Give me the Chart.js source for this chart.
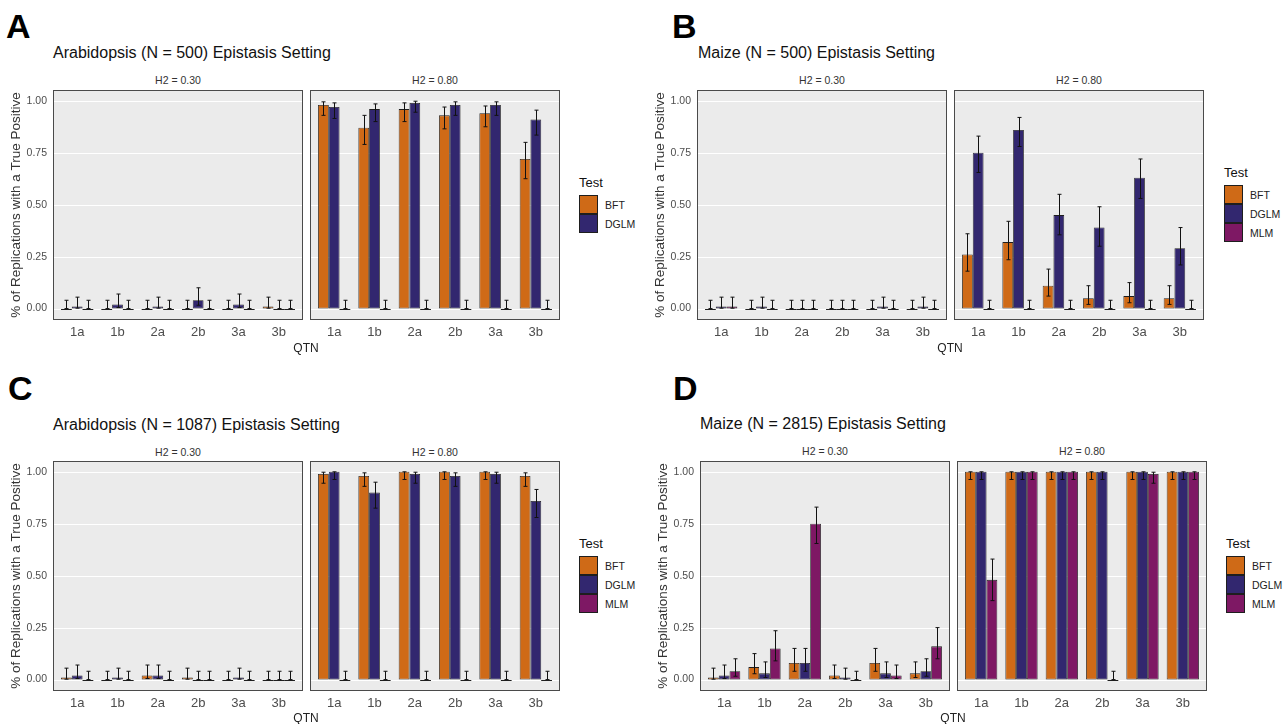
<!DOCTYPE html>
<html>
<head>
<meta charset="utf-8">
<script src="https://cdn.jsdelivr.net/npm/chart.js"></script>
<style>
  body { margin: 0; width: 1286px; height: 724px; background: #fff; position: relative; overflow: hidden;
         font-family: "Liberation Sans", Arial, sans-serif; }
  .txt { position: absolute; white-space: nowrap; line-height: 1; }
  canvas { position: absolute; }
</style>
</head>
<body>
<script>
// ---- data ----
const qtnLabels = ['1a', '1b', '2a', '2b', '3a', '3b'];
const testNames = ['BFT', 'DGLM', 'MLM'];
const testColors = ['#cf6a17', '#32276f', '#7e1864'];
const h2Labels = ['H2 = 0.30', 'H2 = 0.80'];
const yTickValues = [0, 0.25, 0.5, 0.75, 1];

// rows: BFT, DGLM, MLM
// A: Arabidopsis N = 500
const a30Rate = [[0, 0, 0, 0, 0, 0.01], [0.01, 0.02, 0.01, 0.04, 0.02, 0], [0, 0, 0, 0, 0, 0]];
const a30Low  = [[0, 0, 0, 0, 0, 0.002], [0.002, 0.005, 0.002, 0.016, 0.005, 0], [0, 0, 0, 0, 0, 0]];
const a30High = [[0.04, 0.04, 0.04, 0.04, 0.04, 0.055], [0.055, 0.07, 0.055, 0.1, 0.07, 0.04], [0.04, 0.04, 0.04, 0.04, 0.04, 0.04]];
const a80Rate = [[0.98, 0.87, 0.96, 0.93, 0.94, 0.72], [0.97, 0.96, 0.99, 0.98, 0.98, 0.91], [0, 0, 0, 0, 0, 0]];
const a80Low  = [[0.93, 0.79, 0.9, 0.865, 0.875, 0.625], [0.915, 0.9, 0.945, 0.93, 0.93, 0.835], [0, 0, 0, 0, 0, 0]];
const a80High = [[0.995, 0.93, 0.99, 0.97, 0.975, 0.8], [0.99, 0.985, 0.998, 0.995, 0.995, 0.955], [0.04, 0.04, 0.04, 0.04, 0.04, 0.04]];

// B: Maize N = 500
const b30Rate = [[0, 0, 0, 0, 0, 0], [0.01, 0.01, 0, 0, 0.01, 0.01], [0.01, 0, 0, 0, 0, 0]];
const b30Low  = [[0, 0, 0, 0, 0, 0], [0.002, 0.002, 0, 0, 0.002, 0.002], [0.002, 0, 0, 0, 0, 0]];
const b30High = [[0.04, 0.04, 0.04, 0.04, 0.04, 0.04], [0.055, 0.055, 0.04, 0.04, 0.055, 0.055], [0.055, 0.04, 0.04, 0.04, 0.04, 0.04]];
const b80Rate = [[0.26, 0.32, 0.11, 0.05, 0.06, 0.05], [0.75, 0.86, 0.45, 0.39, 0.63, 0.29], [0, 0, 0, 0, 0, 0]];
const b80Low  = [[0.18, 0.235, 0.06, 0.02, 0.028, 0.02], [0.655, 0.78, 0.355, 0.3, 0.53, 0.21], [0, 0, 0, 0, 0, 0]];
const b80High = [[0.36, 0.42, 0.19, 0.11, 0.125, 0.11], [0.83, 0.92, 0.55, 0.49, 0.72, 0.39], [0.04, 0.04, 0.04, 0.04, 0.04, 0.04]];

// C: Arabidopsis N = 1087
const c30Rate = [[0.01, 0, 0.02, 0.01, 0, 0], [0.02, 0.01, 0.02, 0, 0.01, 0], [0, 0, 0, 0, 0, 0]];
const c30Low  = [[0.002, 0, 0.005, 0.002, 0, 0], [0.005, 0.002, 0.005, 0, 0.002, 0], [0, 0, 0, 0, 0, 0]];
const c30High = [[0.055, 0.04, 0.07, 0.055, 0.04, 0.04], [0.07, 0.055, 0.07, 0.04, 0.055, 0.04], [0.04, 0.04, 0.04, 0.04, 0.04, 0.04]];
const c80Rate = [[0.99, 0.98, 1, 1, 1, 0.98], [1, 0.9, 0.99, 0.98, 0.99, 0.86], [0, 0, 0, 0, 0, 0]];
const c80Low  = [[0.945, 0.93, 0.963, 0.963, 0.963, 0.93], [0.963, 0.825, 0.945, 0.93, 0.945, 0.78], [0, 0, 0, 0, 0, 0]];
const c80High = [[0.998, 0.995, 1, 1, 1, 0.995], [1, 0.95, 0.998, 0.995, 0.998, 0.915], [0.04, 0.04, 0.04, 0.04, 0.04, 0.04]];

// D: Maize N = 2815
const d30Rate = [[0.01, 0.06, 0.08, 0.02, 0.08, 0.03], [0.02, 0.03, 0.08, 0.01, 0.03, 0.04], [0.04, 0.15, 0.75, 0, 0.02, 0.16]];
const d30Low  = [[0.002, 0.028, 0.04, 0.005, 0.04, 0.01], [0.005, 0.01, 0.04, 0.002, 0.01, 0.016], [0.016, 0.09, 0.655, 0, 0.005, 0.1]];
const d30High = [[0.055, 0.125, 0.15, 0.07, 0.15, 0.085], [0.07, 0.085, 0.15, 0.055, 0.085, 0.1], [0.1, 0.235, 0.83, 0.04, 0.07, 0.25]];
const d80Rate = [[1, 1, 1, 1, 1, 1], [1, 1, 1, 1, 1, 1], [0.48, 1, 1, 0, 0.99, 1]];
const d80Low  = [[0.963, 0.963, 0.963, 0.963, 0.963, 0.963], [0.963, 0.963, 0.963, 0.963, 0.963, 0.963], [0.38, 0.963, 0.963, 0, 0.945, 0.963]];
const d80High = [[1, 1, 1, 1, 1, 1], [1, 1, 1, 1, 1, 1], [0.58, 1, 1, 0.04, 0.998, 1]];

// ---- layout ----
const panels = [
  { letter: 'A', title: 'Arabidopsis (N = 500) Epistasis Setting', x1: 53, x2: 310, top: 90,
    letterX: 6, letterY: 9, titleX: 53, titleY: 53, stripY: 80, qtnX: 306, qtnY: 348,
    legX: 579, legTitleY: 183, legKeyY: 195, nTests: 2,
    facets: [[a30Rate, a30Low, a30High], [a80Rate, a80Low, a80High]] },
  { letter: 'B', title: 'Maize (N = 500) Epistasis Setting', x1: 697, x2: 954, top: 90,
    letterX: 672, letterY: 9, titleX: 698, titleY: 53, stripY: 80, qtnX: 950, qtnY: 348,
    legX: 1224, legTitleY: 173, legKeyY: 185, nTests: 3,
    facets: [[b30Rate, b30Low, b30High], [b80Rate, b80Low, b80High]] },
  { letter: 'C', title: 'Arabidopsis (N = 1087) Epistasis Setting', x1: 53, x2: 310, top: 461,
    letterX: 8, letterY: 371, titleX: 53, titleY: 425, stripY: 452, qtnX: 306, qtnY: 718,
    legX: 579, legTitleY: 544, legKeyY: 556, nTests: 3,
    facets: [[c30Rate, c30Low, c30High], [c80Rate, c80Low, c80High]] },
  { letter: 'D', title: 'Maize (N = 2815) Epistasis Setting', x1: 700, x2: 957, top: 461,
    letterX: 673, letterY: 371, titleX: 700, titleY: 424, stripY: 451, qtnX: 953, qtnY: 718,
    legX: 1226, legTitleY: 544, legKeyY: 556, nTests: 3,
    facets: [[d30Rate, d30Low, d30High], [d80Rate, d80Low, d80High]] }
];
const PANEL_W = 250, PANEL_H = 230, INSET = 4, Y_AXIS_W = 57, X_AXIS_H = 26;

Chart.defaults.font.family = '"Liberation Sans", Arial, sans-serif';

function addText(txt, x, y, css) {
  const d = document.createElement('div');
  d.className = 'txt';
  d.textContent = txt;
  d.style.cssText = 'left:' + x + 'px;top:' + y + 'px;' + css;
  document.body.appendChild(d);
  return d;
}

// grey ggplot panel, white grid, zero-height bars, error bars, border
const ggPanel = {
  id: 'ggPanel',
  beforeDatasetsDraw(chart) {
    const { ctx, chartArea: a, scales: { y } } = chart;
    const left = a.left - INSET, right = a.right + INSET;
    ctx.save();
    ctx.fillStyle = '#ebebeb';
    ctx.fillRect(left, a.top, right - left, a.bottom - a.top);
    ctx.strokeStyle = '#ffffff';
    ctx.lineWidth = 1.2;
    yTickValues.forEach(v => {
      const py = Math.round(y.getPixelForValue(v)) + 0.5;
      ctx.beginPath(); ctx.moveTo(left, py); ctx.lineTo(right, py); ctx.stroke();
    });
    ctx.restore();
  },
  afterDatasetsDraw(chart) {
    const { ctx, chartArea: a, scales: { y } } = chart;
    const y0 = Math.round(y.getPixelForValue(0)) + 0.5;
    ctx.save();
    chart.data.datasets.forEach((ds, i) => {
      chart.getDatasetMeta(i).data.forEach((bar, j) => {
        if (ds.data[j] === 0) {
          ctx.strokeStyle = '#1e1e1e';
          ctx.lineWidth = 1;
          ctx.beginPath(); ctx.moveTo(bar.x - bar.width / 2, y0); ctx.lineTo(bar.x + bar.width / 2, y0); ctx.stroke();
        }
        const px = Math.round(bar.x) + 0.5;
        const yl = y.getPixelForValue(ds.errLow[j]);
        const yh = y.getPixelForValue(ds.errHigh[j]);
        ctx.strokeStyle = '#111';
        ctx.lineWidth = 1;
        ctx.beginPath();
        ctx.moveTo(px, yl); ctx.lineTo(px, yh);
        ctx.moveTo(px - 2, yh); ctx.lineTo(px + 2, yh);
        ctx.moveTo(px - 2, yl); ctx.lineTo(px + 2, yl);
        ctx.stroke();
      });
    });
    ctx.strokeStyle = '#4a4a4a';
    ctx.lineWidth = 1;
    ctx.strokeRect(a.left - INSET + 0.5, a.top + 0.5, a.right - a.left + 2 * INSET - 1, a.bottom - a.top - 1);
    ctx.restore();
  }
};

function facetChart(panelLeft, panelTop, withAxis, rate, low, high) {
  const cv = document.createElement('canvas');
  const extra = withAxis ? Y_AXIS_W - INSET : 0;
  cv.width = PANEL_W + extra;
  cv.height = 2 + PANEL_H + X_AXIS_H;
  cv.style.left = (panelLeft - extra) + 'px';
  cv.style.top = (panelTop - 2) + 'px';
  document.body.appendChild(cv);

  new Chart(cv, {
    type: 'bar',
    data: {
      labels: qtnLabels,
      datasets: testNames.map((name, k) => ({
        label: name,
        data: rate[k],
        errLow: low[k],
        errHigh: high[k],
        backgroundColor: testColors[k],
        borderColor: '#1e1e1e',
        borderWidth: 0.8,
        borderSkipped: false,
        categoryPercentage: 0.8,
        barPercentage: 1
      }))
    },
    options: {
      responsive: false,
      animation: false,
      devicePixelRatio: 1,
      layout: { padding: { left: withAxis ? 0 : INSET, right: INSET, top: 2, bottom: 0 } },
      plugins: { legend: { display: false }, tooltip: { enabled: false } },
      scales: {
        x: {
          grid: { display: false, drawTicks: false },
          border: { display: false },
          ticks: { font: { size: 13 }, color: '#4d4d4d', padding: 5 },
          afterFit: s => { s.height = X_AXIS_H; s.paddingLeft = 0; s.paddingRight = 0; }
        },
        y: {
          display: withAxis,
          min: -0.055,
          max: 1.052,
          afterBuildTicks: s => { s.ticks = yTickValues.map(v => ({ value: v })); },
          grid: { display: false, drawTicks: false },
          border: { display: false },
          ticks: { callback: v => v.toFixed(2), font: { size: 10.5 }, color: '#4d4d4d', padding: 10 },
          title: {
            display: withAxis,
            text: '% of Replications with a True Positive',
            font: { size: 13.5 },
            color: '#333',
            padding: { top: 8, bottom: 0 }
          },
          afterFit: s => {
            if (!withAxis) return;
            s.width = Y_AXIS_W; s.paddingTop = 0; s.paddingBottom = 0;
          }
        }
      }
    },
    plugins: [ggPanel]
  });
}

panels.forEach(p => {
  addText(p.letter, p.letterX, p.letterY, 'font-size:34px;font-weight:bold;color:#000;');
  addText(p.title, p.titleX, p.titleY - 8, 'font-size:16px;color:#111;');
  [p.x1, p.x2].forEach((fx, f) => {
    addText(h2Labels[f], fx + PANEL_W / 2, p.stripY - 5, 'font-size:10.5px;color:#333;transform:translateX(-50%);');
    const [rate, low, high] = p.facets[f];
    facetChart(fx, p.top, f === 0, rate, low, high);
  });
  addText('QTN', p.qtnX, p.qtnY - 6, 'font-size:12px;color:#222;transform:translateX(-50%);');

  // legend
  addText('Test', p.legX, p.legTitleY - 7, 'font-size:13px;color:#111;');
  testNames.slice(0, p.nTests).forEach((name, k) => {
    const key = document.createElement('div');
    key.style.cssText = 'position:absolute;box-sizing:border-box;width:19px;height:19px;border:1px solid #1e1e1e;' +
      'left:' + p.legX + 'px;top:' + (p.legKeyY + 19 * k) + 'px;background:' + testColors[k] + ';';
    document.body.appendChild(key);
    addText(name, p.legX + 26, p.legKeyY + 19 * k + 4.5, 'font-size:10.5px;color:#222;');
  });
});
</script>
</body>
</html>
